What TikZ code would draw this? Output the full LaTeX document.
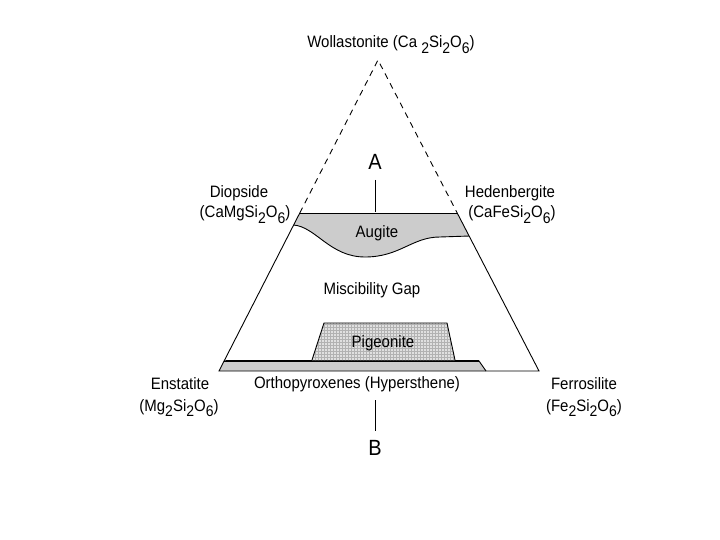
\documentclass[tikz,border=0pt]{standalone}
\usepackage{fontspec}
\usepackage{graphicx}
\setmainfont{Liberation Sans}
\usetikzlibrary{patterns,calc}
\newcommand{\sbs}[1]{\raisebox{-0.65ex}{\fontsize{14}{14}\selectfont #1}}
\newcommand{\vs}[1]{\scalebox{1}[1.1]{#1}}
\tikzset{
  lbl/.style={font=\fontsize{15}{17}\selectfont, align=center, inner sep=0pt, anchor=base},
  big/.style={font=\fontsize{20}{20}\selectfont, inner sep=0pt},
  edge/.style={line width=0.9pt},
  shade/.style={fill=black!20},
}
\begin{document}
\begin{tikzpicture}[x=1pt,y=-1pt]
\useasboundingbox (0,0) rectangle (720,540);
% corners
\coordinate (apex) at (378,60);
\coordinate (L) at (219,371);
\coordinate (R) at (539,371);
\coordinate (dl) at ($(apex)!0.492!(L)$);
\coordinate (dr) at ($(apex)!0.492!(R)$);
\coordinate (al) at ($(apex)!0.5305!(L)$);
\coordinate (ar) at ($(apex)!0.566!(R)$);
\coordinate (ol) at ($(apex)!0.968!(L)$);
% augite region
\fill[shade] (dl) -- (dr) -- (ar) -- (440,237) .. controls (412,237) and (400,257) .. (365,257) .. controls (330,257) and (316,227) .. (al) -- cycle;
\draw[edge] (ar) -- (440,237) .. controls (412,237) and (400,257) .. (365,257) .. controls (330,257) and (316,227) .. (al);
\draw[edge] (dl) -- (dr);
% orthopyroxene band
\fill[shade] (L) -- (ol) -- (479,361) -- (486,371) -- cycle;
\draw[line width=1.6pt] (ol) -- (479,361);
\draw[edge] (479,361) -- (486,371);
% pigeonite
\fill[black!12] (312,360) -- (324,323) -- (447,323) -- (455,360) -- cycle;
\fill[pattern=grid, pattern color=black!30] (312,360) -- (324,323) -- (447,323) -- (455,360) -- cycle;
\draw[edge] (312,360) -- (324,323) -- (447,323) -- (455,360);
% triangle
\draw[edge, dashed, dash pattern=on 6pt off 5pt] (dl) -- (apex) -- (dr);
\draw[edge] (dl) -- (L) -- (R) -- (dr);
% labels
\node[lbl] (wol) at (391,48) {\vs{Wollastonite (Ca \sbs{2}Si\sbs{2}O\sbs{6})}};
\node[lbl] (dio) at (239,197) {\vs{Diopside}};
\node[lbl] (diof) at (245,218) {\vs{(CaMgSi\sbs{2}O\sbs{6})}};
\node[lbl] (hed) at (510,197) {\vs{Hedenbergite}};
\node[lbl] (hedf) at (512,218) {\vs{(CaFeSi\sbs{2}O\sbs{6})}};
\node[lbl] (aug) at (377,237) {\vs{Augite}};
\node[lbl] (mis) at (372,294) {\vs{Miscibility Gap}};
\node[lbl] (pig) at (383,347) {\vs{Pigeonite}};
\node[lbl] (opx) at (357,388) {\vs{Orthopyroxenes (Hypersthene)}};
\node[lbl] (ens) at (180,389) {\vs{Enstatite}};
\node[lbl] (ensf) at (179,411) {\vs{(Mg\sbs{2}Si\sbs{2}O\sbs{6})}};
\node[lbl] (fer) at (584,389) {\vs{Ferrosilite}};
\node[lbl] (ferf) at (584,411) {\vs{(Fe\sbs{2}Si\sbs{2}O\sbs{6})}};
\node[big] (A) at (375,162) {\vs{A}};
\node[big] (B) at (375,448) {\vs{B}};
\coordinate (atop) at (375,180);
\coordinate (abot) at (375,212);
\coordinate (btop) at (375,400);
\coordinate (bbot) at (375,431);
\draw[line width=0.6pt] (atop) -- (abot);
\draw[line width=0.6pt] (btop) -- (bbot);
\end{tikzpicture}
\end{document}
